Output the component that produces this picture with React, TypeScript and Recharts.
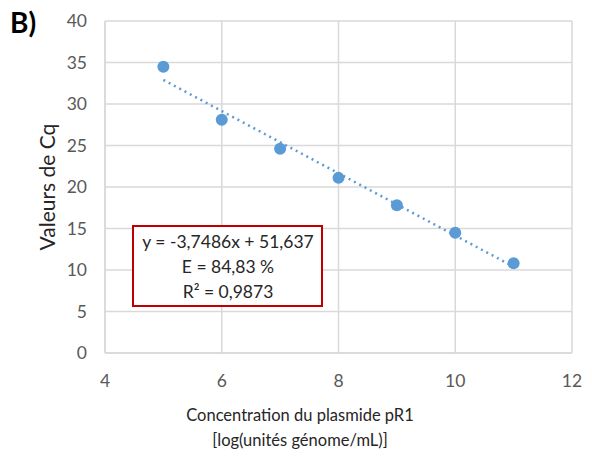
import React from "react";
import {
  ScatterChart,
  Scatter,
  XAxis,
  YAxis,
  CartesianGrid,
  ReferenceLine,
  Customized,
} from "recharts";

const concentrations = [5, 6, 7, 8, 9, 10, 11];
const cqValues = [34.5, 28.1, 24.6, 21.1, 17.8, 14.5, 10.8];
const trendStart = { x: 5, y: 32.9 };
const trendEnd = { x: 11, y: 10.4 };
const xTicks = [4, 6, 8, 10, 12];
const yTicks = [0, 5, 10, 15, 20, 25, 30, 35, 40];
const equationLines = ["y = -3,7486x + 51,637", "E = 84,83 %", "R² = 0,9873"];
const panelLabel = "B)";
const yTitle = "Valeurs de Cq";
const xTitleLines = ["Concentration du plasmide pR1", "[log(unités génome/mL)]"];

const data = concentrations.map((x, i) => ({ x, y: cqValues[i] }));

const FONT = "Lato, 'Open Sans', sans-serif";
const BLUE = "#5B9BD5";
const GRID = "#d9d9d9";

const Overlay = () => (
  <g fontFamily={FONT}>
    <text x={10} y={33} fontSize={28} fontWeight="bold" fill="#000">
      {panelLabel}
    </text>
    <text
      x={46}
      y={187}
      transform="rotate(-90 46 187)"
      textAnchor="middle"
      dominantBaseline="central"
      fontSize={21}
      fill="#262626"
    >
      {yTitle}
    </text>
    {xTitleLines.map((t, i) => (
      <text
        key={i}
        x={300}
        y={421 + i * 25}
        textAnchor="middle"
        fontSize={16.5}
        fill="#262626"
      >
        {t}
      </text>
    ))}
    <rect x={133} y={226} width={189} height={80} fill="#fff" stroke="#C00000" strokeWidth={2} />
    {equationLines.map((t, i) => (
      <text
        key={i}
        x={228}
        y={248 + i * 25}
        textAnchor="middle"
        fontSize={17.5}
        fill="#262626"
      >
        {t}
      </text>
    ))}
  </g>
);

export default function App() {
  return (
    <div style={{ position: "absolute", left: 0, top: 0, width: 592, height: 457, background: "#fff" }}>
      <ScatterChart
        width={592}
        height={457}
        margin={{ top: 21, right: 20, left: 45, bottom: 74 }}
      >
        <CartesianGrid stroke={GRID} strokeWidth={1.5} vertical={true} horizontal={true} />
        <XAxis
          type="number"
          dataKey="x"
          domain={[4, 12]}
          ticks={xTicks}
          interval={0}
          axisLine={{ stroke: GRID, strokeWidth: 1.5 }}
          tickLine={false}
          tickMargin={16}
          height={30}
          tick={{ fill: "#595959", fontSize: 17.5, fontFamily: FONT }}
        />
        <YAxis
          type="number"
          dataKey="y"
          domain={[0, 40]}
          ticks={yTicks}
          interval={0}
          width={60}
          axisLine={{ stroke: GRID, strokeWidth: 1.5 }}
          tickLine={false}
          tickMargin={12}
          tick={{ fill: "#595959", fontSize: 17.5, fontFamily: FONT }}
        />
        <ReferenceLine
          segment={[trendStart, trendEnd]}
          stroke={BLUE}
          strokeWidth={2.5}
          strokeDasharray="2 4"
          ifOverflow="visible"
        />
        <Scatter data={data} fill={BLUE} isAnimationActive={false} shape={(p: any) => (
          <circle cx={p.cx} cy={p.cy} r={6} fill={BLUE} />
        )} />
        <Customized component={Overlay} />
      </ScatterChart>
    </div>
  );
}
